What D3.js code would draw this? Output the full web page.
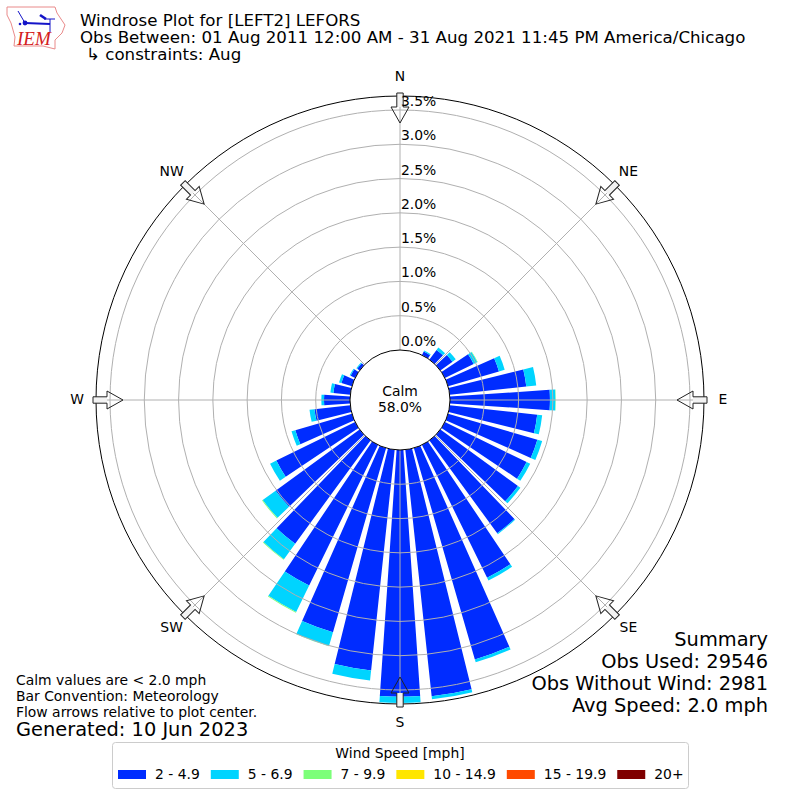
<!DOCTYPE html>
<html>
<head>
<meta charset="utf-8">
<script src="https://cdn.jsdelivr.net/npm/d3@7"></script>
<style>
body { margin: 0; background: #fff; }
text { font-family: "DejaVu Sans", sans-serif; fill: #000; }
</style>
</head>
<body>
<div class="rose"></div>
<script>
const directions = d3.range(0, 360, 10);
const speed2 = [0, 0, 0, 0.058, 0.175, 0.219, 0.467, 0.773, 1.123, 1.458, 1.283, 1.356, 1.327, 1.4, 1.677, 2.158, 3.208, 3.616, 3.597, 3.237, 2.795, 2.282, 1.866, 1.516, 1.279, 0.86, 0.525, 0.379, 0.248, 0.16, 0.073, 0.044, 0, 0, 0, 0];
const speed5 = [0, 0, 0, 0.015, 0.044, 0.058, 0.058, 0.087, 0.146, 0.08, 0.073, 0.073, 0.058, 0.044, 0.015, 0.044, 0.044, 0.044, 0.092, 0.146, 0.208, 0.43, 0.277, 0.233, 0.102, 0.058, 0.073, 0.039, 0.044, 0.036, 0.015, 0.015, 0, 0, 0, 0];
const speed7 = [0, 0, 0, 0, 0, 0, 0.008, 0, 0, 0.006, 0, 0, 0, 0, 0, 0, 0, 0, 0, 0, 0.006, 0.012, 0.012, 0.012, 0, 0, 0, 0, 0, 0, 0, 0, 0, 0, 0, 0];
const speed10 = directions.map(() => 0);
const speed15 = directions.map(() => 0);
const speed20 = directions.map(() => 0);

const speedLabels = ['2 - 4.9', '5 - 6.9', '7 - 9.9', '10 - 14.9', '15 - 19.9', '20+'];
const speedColors = ['#002cff', '#00d4ff', '#7cff79', '#ffe600', '#ff4a00', '#7f0000'];
const pctTicks = [0, 0.5, 1, 1.5, 2, 2.5, 3, 3.5];
const compass = ['N', 'NE', 'E', 'SE', 'S', 'SW', 'W', 'NW'];
const compassAngles = [0, 45, 90, 135, 180, 225, 270, 315];
const summaryLines = ['Summary', 'Obs Used: 29546', 'Obs Without Wind: 2981', 'Avg Speed: 2.0 mph'];
const noteLines = ['Calm values are < 2.0 mph', 'Bar Convention: Meteorology', 'Flow arrows relative to plot center.'];

const width = 800, height = 800;
const cx = 400, cy = 400;
const fontSize = 13.9;
const titleSize = 16.67;

const svg = d3.select('.rose').append('svg')
    .attr('width', width)
    .attr('height', height)
    .style('display', 'block');

drawLogo();

// titles
svg.append('text').attr('x', 80).attr('y', 26).attr('font-size', titleSize).text('Windrose Plot for [LEFT2] LEFORS');
svg.append('text').attr('x', 80).attr('y', 43).attr('font-size', titleSize).text('Obs Between: 01 Aug 2011 12:00 AM - 31 Aug 2021 11:45 PM America/Chicago');
svg.append('text').attr('x', 86).attr('y', 60).attr('font-size', titleSize).text('↳ constraints: Aug');

const r = d3.scaleLinear().domain([0, 3.5]).range([50, 290]);
const outerR = 304;
const angle = d => d * Math.PI / 180;
const barWidth = 7.8;

const rows = directions.map((d, i) => ({
    dir: d, s0: speed2[i], s1: speed5[i], s2: speed7[i], s3: speed10[i], s4: speed15[i], s5: speed20[i]
}));
const stacked = d3.stack().keys(['s0', 's1', 's2', 's3', 's4', 's5'])(rows);

const g = svg.append('g').attr('transform', `translate(${cx}, ${cy})`);

g.append('circle').attr('r', outerR).attr('fill', '#fff');

const arc = d3.arc()
    .innerRadius(d => r(d[0]))
    .outerRadius(d => Math.min(r(d[1]), outerR))
    .startAngle(d => angle(d.data.dir - barWidth / 2))
    .endAngle(d => angle(d.data.dir + barWidth / 2));

stacked.forEach((layer, i) => {
    g.append('g').selectAll('path')
        .data(layer.filter(d => d[1] > d[0]))
        .join('path')
        .attr('d', arc)
        .attr('fill', speedColors[i]);
});

// grid sits on top of the bars
g.append('g').selectAll('circle')
    .data(pctTicks.slice(1))
    .join('circle')
    .attr('r', d => r(d))
    .attr('fill', 'none')
    .attr('stroke', '#b0b0b0')
    .attr('stroke-width', 1);

g.append('g').selectAll('line')
    .data(compassAngles)
    .join('line')
    .attr('x1', d => r(0) * Math.sin(angle(d)))
    .attr('y1', d => -r(0) * Math.cos(angle(d)))
    .attr('x2', d => outerR * Math.sin(angle(d)))
    .attr('y2', d => -outerR * Math.cos(angle(d)))
    .attr('stroke', '#b0b0b0')
    .attr('stroke-width', 1);

g.append('circle').attr('r', outerR).attr('fill', 'none').attr('stroke', '#000').attr('stroke-width', 1);
g.append('circle').attr('r', r(0)).attr('fill', '#fff').attr('stroke', '#000').attr('stroke-width', 1);

// flow arrows, pointing at the centre
const arrowOutline = d3.line()([[-3.2, -307], [3.2, -307], [3.2, -293], [9, -293], [0, -277], [-9, -293], [-3.2, -293]]);
const arrows = g.append('g').selectAll('g')
    .data(compassAngles)
    .join('g')
    .attr('transform', d => `rotate(${d})`);
arrows.append('rect')
    .attr('x', -3.2).attr('y', -307).attr('width', 6.4).attr('height', 14)
    .attr('fill', '#f2f2f2');
arrows.append('path')
    .attr('d', arrowOutline + 'Z')
    .attr('fill', 'none')
    .attr('stroke', '#222')
    .attr('stroke-width', 1);

// radial tick labels
g.append('g').selectAll('text')
    .data(pctTicks)
    .join('text')
    .attr('x', 1)
    .attr('y', d => -r(d) - 4)
    .attr('font-size', fontSize)
    .text(d => d.toFixed(1) + '%');

// compass labels
g.append('g').selectAll('text')
    .data(compass)
    .join('text')
    .attr('x', (d, i) => 323 * Math.sin(angle(compassAngles[i])))
    .attr('y', (d, i) => -323 * Math.cos(angle(compassAngles[i])))
    .attr('dy', '0.28em')
    .attr('text-anchor', 'middle')
    .attr('font-size', fontSize)
    .text(d => d);

g.append('text').attr('y', -4).attr('text-anchor', 'middle').attr('font-size', fontSize).text('Calm');
g.append('text').attr('y', 12).attr('text-anchor', 'middle').attr('font-size', fontSize).text('58.0%');

// notes, bottom left
svg.append('g').selectAll('text')
    .data(noteLines)
    .join('text')
    .attr('x', 16)
    .attr('y', (d, i) => 685 + i * 16)
    .attr('font-size', fontSize)
    .text(d => d);
svg.append('text').attr('x', 16).attr('y', 736).attr('font-size', 19.4).text('Generated: 10 Jun 2023');

// summary, bottom right
svg.append('g').selectAll('text')
    .data(summaryLines)
    .join('text')
    .attr('x', 768)
    .attr('y', (d, i) => 646 + i * 22)
    .attr('text-anchor', 'end')
    .attr('font-size', 19.4)
    .text(d => d);

// legend, entries flow from their text widths
const legend = svg.append('g');
legend.append('rect')
    .attr('x', 112.5).attr('y', 742.5).attr('width', 576).attr('height', 46).attr('rx', 3)
    .attr('fill', '#fff').attr('stroke', '#ccc').attr('stroke-width', 1);
legend.append('text').attr('x', 400).attr('y', 758).attr('text-anchor', 'middle').attr('font-size', fontSize).text('Wind Speed [mph]');
let legendX = 118;
speedLabels.forEach((label, i) => {
    legend.append('rect').attr('x', legendX).attr('y', 770).attr('width', 28).attr('height', 9).attr('fill', speedColors[i]);
    const t = legend.append('text').attr('x', legendX + 37).attr('y', 779).attr('font-size', fontSize).text(label);
    legendX += 37 + t.node().getComputedTextLength() + 11;
});

function drawLogo() {
    const logo = svg.append('g');
    const blue = '#1414c8';
    const iowa = d3.line()([[7, 7], [55, 7], [57, 13], [65, 25], [62, 33], [55, 40], [55, 49], [43, 46], [14, 46], [15, 37], [11, 23], [7, 15]]);
    logo.append('path').attr('d', iowa + 'Z').attr('fill', 'none').attr('stroke', '#e98a8a').attr('stroke-width', 1);
    logo.append('line').attr('x1', 25).attr('y1', 23).attr('x2', 50).attr('y2', 24).attr('stroke', blue).attr('stroke-width', 1.8);
    logo.append('line').attr('x1', 44).attr('y1', 19).attr('x2', 55).attr('y2', 19).attr('stroke', blue).attr('stroke-width', 1);
    logo.append('circle').attr('cx', 25).attr('cy', 23).attr('r', 2.4).attr('fill', blue);
    logo.append('line').attr('x1', 18).attr('y1', 11).attr('x2', 25).attr('y2', 23).attr('stroke', blue).attr('stroke-width', 1);
    logo.append('circle').attr('cx', 20).attr('cy', 24).attr('r', 1.3).attr('fill', blue);
    logo.append('line').attr('x1', 40).attr('y1', 15).attr('x2', 46).attr('y2', 19).attr('stroke', blue).attr('stroke-width', 2.6);
    logo.append('line').attr('x1', 50).attr('y1', 19).attr('x2', 50).attr('y2', 32).attr('stroke', blue).attr('stroke-width', 1);
    logo.append('text').attr('x', 17).attr('y', 45).attr('font-size', 19)
        .style('font-family', '"Liberation Serif", serif').style('font-style', 'italic').style('fill', '#d42020').text('IEM');
}
</script>
</body>
</html>
